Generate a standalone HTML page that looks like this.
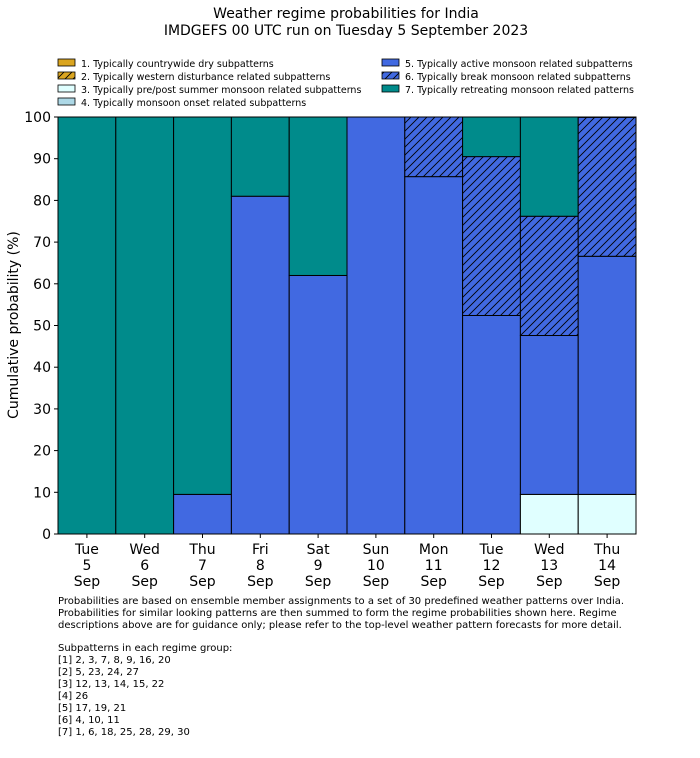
<!DOCTYPE html>
<html><head><meta charset="utf-8"><style>
body{margin:0;background:#fff;width:700px;height:754px;overflow:hidden;font-family:"DejaVu Sans","Liberation Sans",sans-serif;}
svg text{font-family:"DejaVu Sans","Liberation Sans",sans-serif;}
</style></head><body>
<svg id="chart" width="700" height="754" xmlns="http://www.w3.org/2000/svg">
<defs>
<pattern id="hatch" patternUnits="userSpaceOnUse" width="8" height="8">
<rect width="8" height="8" fill="#4169e1"/>
<path d="M-2,2 l4,-4 M0,8 l8,-8 M6,10 l4,-4" stroke="#000" stroke-width="0.9"/>
</pattern>
<pattern id="hatchY" patternUnits="userSpaceOnUse" width="8" height="8">
<rect width="8" height="8" fill="#daa520"/>
<path d="M-2,2 l4,-4 M0,8 l8,-8 M6,10 l4,-4" stroke="#000" stroke-width="0.9"/>
</pattern>
</defs>
<text x="346" y="18" font-size="14" text-anchor="middle">Weather regime probabilities for India</text>
<text x="346" y="35" font-size="14" text-anchor="middle">IMDGEFS 00 UTC run on Tuesday 5 September 2023</text>
<g id="legend" font-size="9.5"></g>
<g id="bars"></g>
<g id="axes"></g>
<text transform="translate(18,325) rotate(-90)" font-size="14" text-anchor="middle">Cumulative probability (%)</text>
<g font-size="10">
<text x="58" y="604">Probabilities are based on ensemble member assignments to a set of 30 predefined weather patterns over India.</text>
<text x="58" y="616">Probabilities for similar looking patterns are then summed to form the regime probabilities shown here. Regime</text>
<text x="58" y="628">descriptions above are for guidance only; please refer to the top-level weather pattern forecasts for more detail.</text>
<text x="58" y="651">Subpatterns in each regime group:</text>
<text x="58" y="663">[1] 2, 3, 7, 8, 9, 16, 20</text>
<text x="58" y="675">[2] 5, 23, 24, 27</text>
<text x="58" y="687">[3] 12, 13, 14, 15, 22</text>
<text x="58" y="699">[4] 26</text>
<text x="58" y="711">[5] 17, 19, 21</text>
<text x="58" y="723">[6] 4, 10, 11</text>
<text x="58" y="735">[7] 1, 6, 18, 25, 28, 29, 30</text>
</g>
</svg>
<script>
const days=["Tue","Wed","Thu","Fri","Sat","Sun","Mon","Tue","Wed","Thu"];
const dates=["5","6","7","8","9","10","11","12","13","14"];
const prePost=[0,0,0,0,0,0,0,0,9.5,9.5];
const active=[0,0,9.5,81,62,100,85.7,52.4,38.1,57.1];
const breakM=[0,0,0,0,0,0,14.3,38.1,28.6,33.3];
const retreat=[100,100,90.5,19,38,0,0,9.5,23.8,0];
const yTicks=[0,10,20,30,40,50,60,70,80,90,100];
const legendLabels=["1. Typically countrywide dry subpatterns","2. Typically western disturbance related subpatterns","3. Typically pre/post summer monsoon related subpatterns","4. Typically monsoon onset related subpatterns","5. Typically active monsoon related subpatterns","6. Typically break monsoon related subpatterns","7. Typically retreating monsoon related patterns"];
const fills=["#daa520","url(#hatchY)","#e0ffff","#add8e6","#4169e1","url(#hatch)","#008b8b"];
const NS="http://www.w3.org/2000/svg";
const X0=58,X1=636,Y0=534,Y1=117;
const bw=(X1-X0)/days.length;
const yS=v=>Y0-(Y0-Y1)*v/100;
const xS=i=>X0+i*bw;
function mk(t,a,p){const e=document.createElementNS(NS,t);for(const k in a)e.setAttribute(k,a[k]);p.appendChild(e);return e;}
const bars=document.getElementById('bars');
const series=[[prePost,2],[active,4],[breakM,5],[retreat,6]];
for(let i=0;i<days.length;i++){
 let base=0;
 for(const [arr,ci] of series){
  const v=arr[i]; if(v<=0)continue;
  const r=mk('rect',{x:xS(i),y:yS(base+v),width:bw,height:yS(base)-yS(base+v),fill:fills[ci],stroke:'#000','stroke-width':1},bars);
  
  
  base+=v;
 }
}
const ax=document.getElementById('axes');
const frame=mk('rect',{x:X0,y:Y1,width:X1-X0,height:Y0-Y1,fill:'none',stroke:'#000','stroke-width':1},ax);


yTicks.forEach(t=>{
 mk('line',{x1:X0-4,x2:X0,y1:yS(t),y2:yS(t),stroke:'#000'},ax);
 const tx=mk('text',{x:X0-7,y:yS(t)+5,'font-size':14,'text-anchor':'end'},ax);
 tx.textContent=t;
 
 
});
days.forEach((d,i)=>{
 const cx=xS(i)+bw/2;
 mk('line',{x1:cx,x2:cx,y1:Y0,y2:Y0+4,stroke:'#000'},ax);
 [d,dates[i],"Sep"].forEach((s,j)=>{
  const tx=mk('text',{x:cx,y:Y0+20+j*16,'font-size':14,'text-anchor':'middle'},ax);
  tx.textContent=s;
  
  
 });
});
const lg=document.getElementById('legend');
legendLabels.forEach((l,i)=>{
 const col=i<4?0:1,row=i<4?i:i-4;
 const x=col?382:58,y=59+row*13;
 const r=mk('rect',{x:x,y:y,width:17,height:7,fill:fills[i],stroke:'#000','stroke-width':0.8},lg);
 
 
 const t=mk('text',{x:x+23,y:y+8},lg);
 t.textContent=l;
 
 
});
</script>
</body></html>
